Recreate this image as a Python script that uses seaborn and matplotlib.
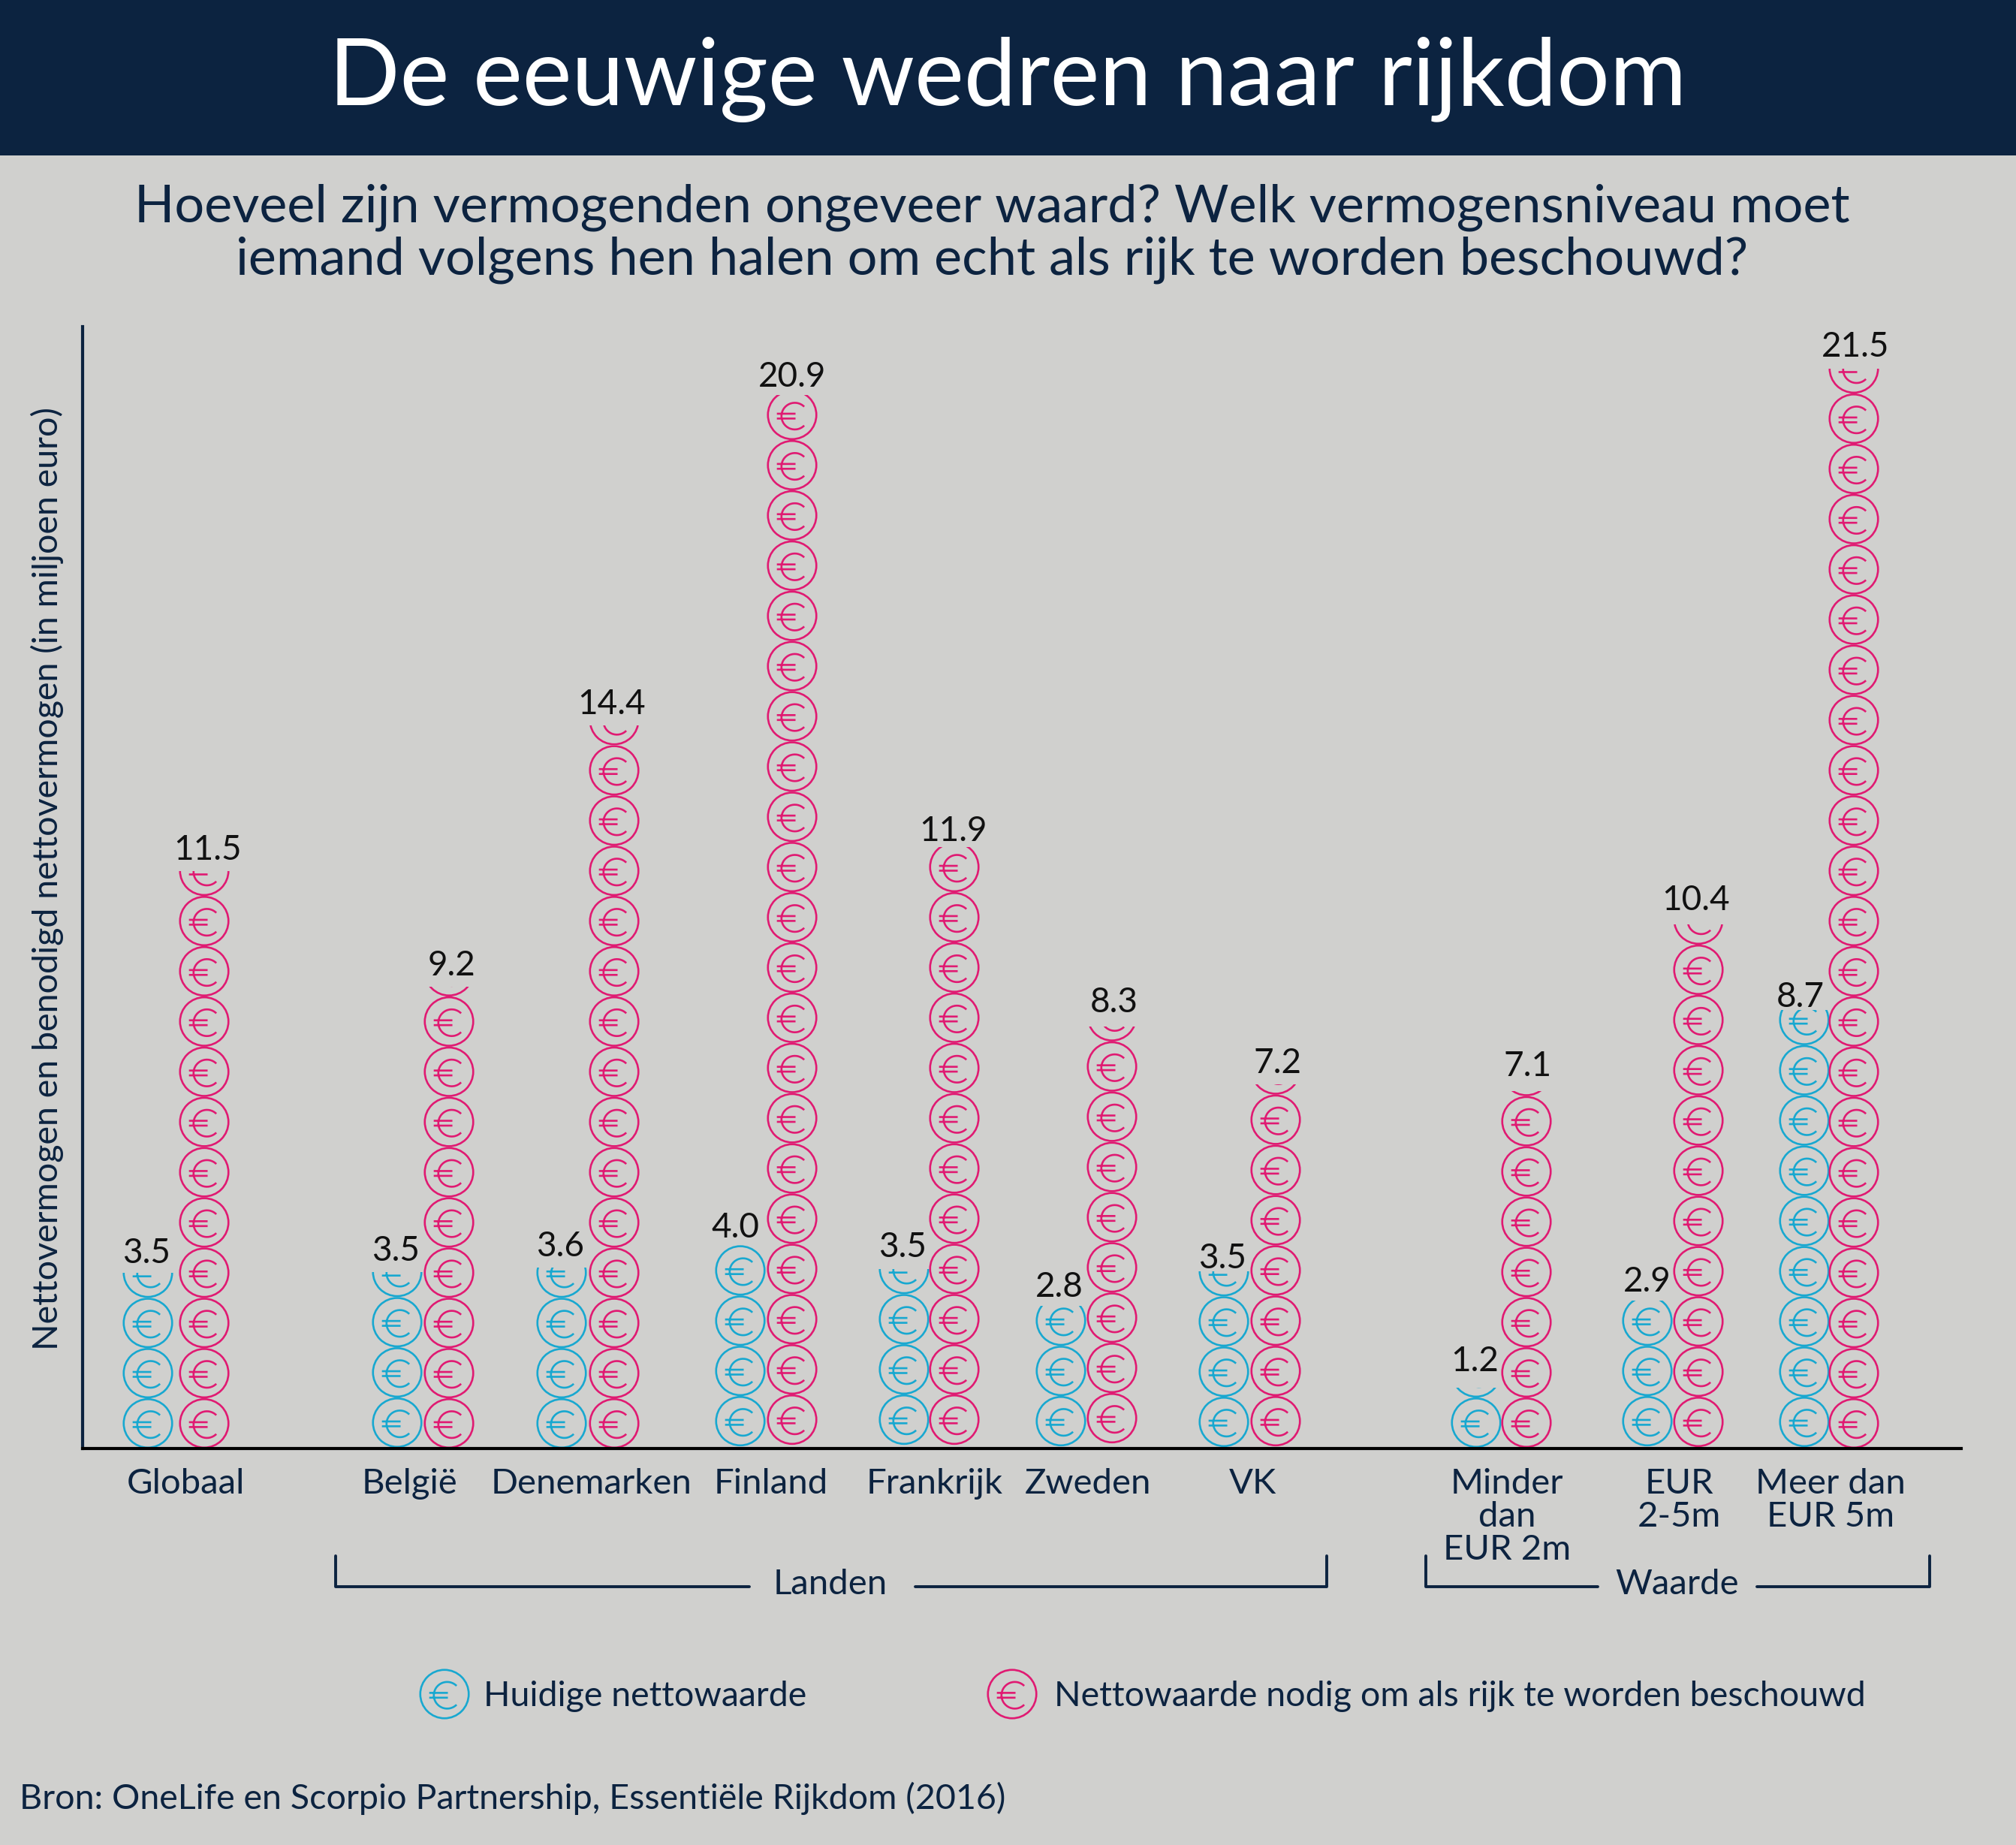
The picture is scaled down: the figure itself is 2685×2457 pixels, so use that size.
import numpy as np
import pandas as pd
import matplotlib
matplotlib.use("Agg")
import matplotlib.pyplot as plt
from matplotlib.path import Path
from matplotlib.patches import Rectangle
from matplotlib.transforms import Affine2D
import seaborn as sns

# data
categories = ["Globaal", "België", "Denemarken", "Finland", "Frankrijk", "Zweden", "VK",
              "Minder\ndan\nEUR 2m", "EUR\n2-5m", "Meer dan\nEUR 5m"]
current = [3.5, 3.5, 3.6, 4.0, 3.5, 2.8, 3.5, 1.2, 2.9, 8.7]
needed = [11.5, 9.2, 14.4, 20.9, 11.9, 8.3, 7.2, 7.1, 10.4, 21.5]

# layout, in reference pixels
W, H = 2685, 2457
BASE_Y, TOP_Y, LEFT_X, RIGHT_X = 1929, 435, 110, 2612
UNIT = 66.9
x_current = [197, 529, 748, 986, 1204, 1413, 1630, 1966, 2194, 2403]
x_needed = [272, 598, 818, 1055, 1271, 1481, 1699, 2033, 2262, 2469]
x_labels = [247, 545, 788, 1027, 1245, 1449, 1668, 2007, 2236, 2438]
# small nudges of the stacks and value labels (pixels, up / right / down)
lift_current = [0, 1, 0, 3, 5, 3, 2, 1, 3, 2]
lift_needed = [0, 0, 0, 5, 5, 7, 3, 1, 2, 0]
dx_current = [-2, -2, -2, -7, -2, -2, -2, -2, 0, -5]
dy_current = [5, 2, 3, 5, -3, 3, 12, -5, 3, 12]
dx_needed = [5, 3, -3, 0, -2, 3, 2, 2, -3, 2]
dy_needed = [3, 3, 3, 2, 5, -8, 0, -3, -3, 2]

BG = "#d0d0ce"
NAVY = "#0c2340"
BLUE = "#18a8d0"
PINK = "#e01a72"
FONT = "Lato"

sns.set_theme(style="white", rc={"figure.facecolor": BG, "axes.facecolor": "none",
                                 "savefig.facecolor": BG})
plt.rcParams["font.family"] = [FONT, "DejaVu Sans"]

# euro coin as one marker: ring, C and two bars
ring = Path.unit_circle()
arc = Path.arc(45, 315).transformed(Affine2D().scale(0.55).translate(0.11, -0.05))
bars = Path([(-0.63, 0.05), (0.14, 0.05), (-0.63, -0.15), (0.14, -0.15)],
            [Path.MOVETO, Path.LINETO, Path.MOVETO, Path.LINETO])
coin = Path.make_compound_path(ring, arc, bars)
COIN_S = (64.5 * 72 / 100) ** 2
COIN_LW = 1.9


def draw_coins(ax, xs, ys, colour, s=COIN_S):
    return sns.scatterplot(x=xs, y=ys, ax=ax, marker=coin, s=s, facecolor="none",
                           edgecolor=colour, linewidth=COIN_LW, legend=False)


def coin_stack(ax, xs, values, lifts, dxs, dys, colour):
    rows = pd.DataFrame({"x": xs, "value": values, "lift": np.array(lifts) / UNIT})
    rows["whole"] = np.floor(rows["value"] + 1e-9).astype(int)
    rows["part"] = (rows["value"] - rows["whole"]).round(2)
    full = rows.loc[rows.index.repeat(rows["whole"])].copy()
    full["y"] = full.groupby("x").cumcount() + 0.5 + full["lift"]
    draw_coins(ax, full["x"].to_numpy(), full["y"].to_numpy(), colour)
    # the last coin is cut off at its value
    for _, r in rows[rows["part"] > 0].iterrows():
        draw_coins(ax, [r["x"]], [r["whole"] + 0.5 + r["lift"]], colour)
        clip = Rectangle((r["x"] - 40, r["whole"] + r["lift"]), 80, r["part"], transform=ax.transData)
        ax.collections[-1].set_clip_path(clip)
    for x, v, dx, dy in zip(xs, values, dxs, dys):
        ax.annotate(f"{v:.1f}", (x, v), xytext=(dx, 31 - dy), textcoords="offset pixels",
                    ha="center", va="center", fontsize=33, color="#111111")


fig = plt.figure(figsize=(W / 100, H / 100), dpi=100)

# overlay in pixel coordinates for header, brackets, legend
ov = fig.add_axes([0, 0, 1, 1])
ov.set_xlim(0, W)
ov.set_ylim(H, 0)
ov.axis("off")

ax = fig.add_axes([LEFT_X / W, 1 - BASE_Y / H, (RIGHT_X - LEFT_X) / W, (BASE_Y - TOP_Y) / H])
ax.set_xlim(LEFT_X, RIGHT_X)
ax.set_ylim(0, (BASE_Y - TOP_Y) / UNIT)

coin_stack(ax, x_current, current, lift_current, dx_current, dy_current, BLUE)
coin_stack(ax, x_needed, needed, lift_needed, dx_needed, dy_needed, PINK)

sns.despine(ax=ax)
ax.spines["left"].set_color(NAVY)
ax.spines["left"].set_linewidth(3)
ax.spines["bottom"].set_color("black")
ax.spines["bottom"].set_linewidth(3)
ax.set_yticks([])
ax.set_xticks(x_labels)
ax.set_xticklabels(categories, fontsize=34, color=NAVY, linespacing=1.05)
ax.tick_params(axis="x", length=0, pad=19)
ax.set_xlabel("")
ax.set_ylabel("")

# header
ov.add_patch(Rectangle((0, 0), W, 207, facecolor=NAVY, edgecolor="none"))
ov.text(1342, 106, "De eeuwige wedren naar rijkdom", color="white", fontsize=89.6,
        ha="center", va="center")
ov.text(1321, 276, "Hoeveel zijn vermogenden ongeveer waard? Welk vermogensniveau moet",
        color=NAVY, fontsize=50.5, ha="center", va="center")
ov.text(1321, 346, "iemand volgens hen halen om echt als rijk te worden beschouwd?",
        color=NAVY, fontsize=50.5, ha="center", va="center")

ov.text(63, 1170, "Nettovermogen en benodigd nettovermogen (in miljoen euro)", color=NAVY,
        fontsize=33.6, rotation=90, ha="center", va="center")

# group brackets
for x0, x1, g0, g1, top in [(447, 1767, 998, 1219, 2072), (1899, 2570, 2128, 2340, 2072)]:
    ov.plot([x0, x0, g0], [top, 2113, 2113], color=NAVY, lw=2.8)
    ov.plot([g1, x1, x1], [2113, 2113, top], color=NAVY, lw=2.8)
ov.text(1106, 2110, "Landen", color=NAVY, fontsize=34, ha="center", va="center")
ov.text(2234, 2110, "Waarde", color=NAVY, fontsize=34, ha="center", va="center")

# legend
draw_coins(ov, [592], [2256], BLUE)
draw_coins(ov, [1348], [2256], PINK)
ov.text(644, 2259, "Huidige nettowaarde", color=NAVY, fontsize=33.5, va="center")
ov.text(1404, 2259, "Nettowaarde nodig om als rijk te worden beschouwd", color=NAVY, fontsize=33.6,
        va="center")

ov.text(26, 2395, "Bron: OneLife en Scorpio Partnership, Essentiële Rijkdom (2016)", color=NAVY,
        fontsize=33.6, va="center")

fig.savefig("out.png", dpi=100)
